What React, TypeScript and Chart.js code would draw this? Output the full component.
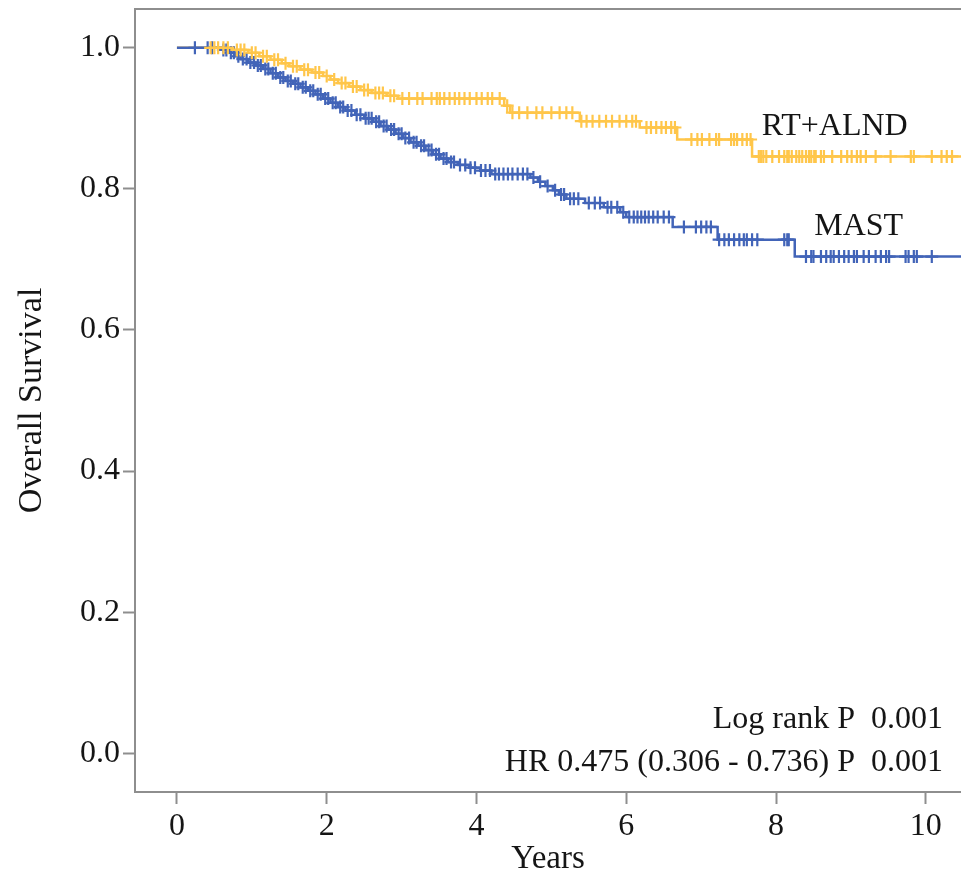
import React, { useEffect, useRef } from 'react';
import { Chart, registerables } from 'chart.js';

Chart.register(...registerables);

// ---- data ----
const xTicks = [0, 2, 4, 6, 8, 10];
const yTicks = [0, 0.2, 0.4, 0.6, 0.8, 1.0];

const seriesNames = ['RT+ALND', 'MAST'];
const statLines = ['Log rank P  0.001', 'HR 0.475 (0.306 - 0.736) P  0.001'];

// MAST (blue) Kaplan-Meier steps
const mastEventTimes = [0, 0.62, 0.7, 0.78, 0.85, 0.95, 1.05, 1.15, 1.25, 1.35, 1.45, 1.55, 1.65, 1.75, 1.85, 1.95, 2.05, 2.15, 2.25, 2.38, 2.5, 2.62, 2.72, 2.82, 2.92, 3.02, 3.12, 3.22, 3.32, 3.42, 3.52, 3.62, 3.75, 3.9, 4.05, 4.2, 4.72, 4.82, 4.92, 5.02, 5.1, 5.2, 5.45, 5.7, 5.92, 6.0, 6.62, 7.22, 8.25];
const mastSurvival = [1.0, 0.997, 0.993, 0.988, 0.984, 0.979, 0.975, 0.97, 0.964, 0.958, 0.953, 0.949, 0.944, 0.939, 0.934, 0.928, 0.922, 0.916, 0.911, 0.905, 0.9, 0.895, 0.889, 0.884, 0.878, 0.872, 0.866, 0.861, 0.855, 0.849, 0.843, 0.838, 0.834, 0.83, 0.826, 0.821, 0.816, 0.81, 0.804, 0.798, 0.792, 0.786, 0.78, 0.774, 0.767, 0.76, 0.746, 0.728, 0.704];
const mastCensorTimes = [0.24, 0.41, 0.47, 0.62, 0.66, 0.72, 0.76, 0.82, 0.88, 0.93, 0.98, 1.03, 1.08, 1.12, 1.18, 1.22, 1.28, 1.32, 1.38, 1.42, 1.48, 1.52, 1.58, 1.62, 1.68, 1.72, 1.78, 1.82, 1.88, 1.92, 1.98, 2.02, 2.08, 2.12, 2.18, 2.22, 2.28, 2.33, 2.4, 2.45, 2.52, 2.56, 2.6, 2.66, 2.7, 2.76, 2.8, 2.86, 2.9, 2.96, 3.0, 3.05, 3.1, 3.16, 3.2, 3.26, 3.3, 3.36, 3.4, 3.46, 3.5, 3.56, 3.6, 3.66, 3.7, 3.78, 3.85, 3.92, 3.98, 4.06, 4.12, 4.18, 4.25, 4.3, 4.36, 4.42, 4.48, 4.55, 4.62, 4.68, 4.76, 4.85, 4.95, 5.05, 5.13, 5.17, 5.25, 5.3, 5.36, 5.5, 5.58, 5.65, 5.75, 5.8, 5.88, 5.96, 6.04, 6.1, 6.15, 6.2, 6.25, 6.3, 6.36, 6.42, 6.5, 6.57, 6.77, 6.93, 7.0, 7.07, 7.13, 7.24, 7.31, 7.37, 7.44, 7.51, 7.57, 7.61, 7.68, 7.75, 8.11, 8.15, 8.17, 8.4, 8.47, 8.5, 8.6, 8.67, 8.73, 8.77, 8.84, 8.91, 8.97, 9.04, 9.08, 9.17, 9.24, 9.33, 9.4, 9.47, 9.51, 9.73, 9.77, 9.84, 9.88, 10.08];

// RT+ALND (yellow) Kaplan-Meier steps
const rtEventTimes = [0, 0.75, 0.95, 1.1, 1.25, 1.4, 1.5, 1.65, 1.8, 1.95, 2.05, 2.15, 2.3, 2.45, 2.6, 2.8, 2.95, 4.37, 4.45, 5.38, 6.18, 6.68, 7.68];
const rtSurvival = [1.0, 0.997, 0.993, 0.988, 0.983, 0.978, 0.974, 0.969, 0.965, 0.96, 0.955, 0.95, 0.945, 0.94, 0.936, 0.932, 0.928, 0.918, 0.908, 0.896, 0.887, 0.87, 0.846];
const rtCensorTimes = [0.45, 0.5, 0.55, 0.62, 0.68, 0.8, 0.85, 0.9, 1.0, 1.05, 1.15, 1.2, 1.3, 1.35, 1.45, 1.55, 1.6, 1.7, 1.75, 1.85, 1.9, 2.0, 2.1, 2.2, 2.25, 2.35, 2.4, 2.5, 2.55, 2.65, 2.7, 2.75, 2.85, 2.9, 3.01, 3.1, 3.21, 3.28, 3.4, 3.47, 3.51, 3.57, 3.64, 3.71, 3.77, 3.84, 3.91, 4.0, 4.07, 4.15, 4.21, 4.31, 4.41, 4.48, 4.57, 4.68, 4.8, 4.88, 5.0, 5.11, 5.2, 5.28, 5.4, 5.47, 5.55, 5.64, 5.73, 5.81, 5.91, 6.0, 6.08, 6.13, 6.27, 6.33, 6.4, 6.47, 6.53, 6.6, 6.65, 6.87, 6.95, 7.01, 7.11, 7.2, 7.24, 7.4, 7.44, 7.48, 7.55, 7.61, 7.66, 7.77, 7.8, 7.83, 7.87, 7.95, 8.04, 8.11, 8.15, 8.17, 8.21, 8.27, 8.31, 8.35, 8.4, 8.44, 8.47, 8.51, 8.53, 8.6, 8.64, 8.75, 8.87, 8.95, 9.01, 9.08, 9.13, 9.2, 9.33, 9.53, 9.8, 9.84, 10.08, 10.21, 10.28, 10.35];

// ---- styling ----
const FONT = "'Liberation Serif', 'Times New Roman', serif";
const YELLOW = '#FFC64A';
const BLUE = '#4264B8';
const AXIS = '#8e8e8e';
const TEXT = '#151515';
const X_MIN = -0.56;
const X_MAX = 10.47;
const Y_MIN = -0.055;
const Y_MAX = 1.055;

function survivalAt(times: number[], values: number[], t: number) {
  let s = values[0];
  for (let i = 0; i < times.length; i++) {
    if (times[i] <= t) s = values[i];
  }
  return s;
}

function stepPoints(times: number[], values: number[]) {
  const pts = times.map((t, i) => ({ x: t, y: values[i] }));
  pts.push({ x: X_MAX + 0.3, y: values[values.length - 1] });
  return pts;
}

function censorPoints(censor: number[], times: number[], values: number[]) {
  return censor.map((t) => ({ x: t, y: survivalAt(times, values, t) }));
}

const annotPlugin = {
  id: 'annot',
  afterDraw(chart: any) {
    const { ctx, chartArea, scales } = chart;
    const xs = scales.x;
    const ys = scales.y;
    ctx.save();
    // top frame line
    ctx.strokeStyle = AXIS;
    ctx.lineWidth = 2;
    ctx.beginPath();
    ctx.moveTo(chartArea.left - 1, chartArea.top);
    ctx.lineTo(chartArea.right, chartArea.top);
    ctx.stroke();

    ctx.fillStyle = TEXT;
    ctx.font = `32px ${FONT}`;
    ctx.textBaseline = 'middle';
    ctx.textAlign = 'left';
    ctx.fillText(seriesNames[0], xs.getPixelForValue(7.81), ys.getPixelForValue(0.888));
    ctx.fillText(seriesNames[1], xs.getPixelForValue(8.51), ys.getPixelForValue(0.746));
    ctx.textAlign = 'right';
    ctx.fillText(statLines[0], xs.getPixelForValue(10.23), ys.getPixelForValue(0.047));
    ctx.fillText(statLines[1], xs.getPixelForValue(10.23), ys.getPixelForValue(-0.014));
    ctx.restore();
  },
};

export default function App() {
  const ref = useRef<HTMLCanvasElement | null>(null);

  useEffect(() => {
    document.body.style.margin = '0';
    const canvas = ref.current;
    if (!canvas) return;
    const chart = new Chart(canvas, {
      type: 'scatter',
      data: {
        datasets: [
          {
            label: 'RT+ALND censored',
            data: censorPoints(rtCensorTimes, rtEventTimes, rtSurvival),
            showLine: false,
            pointStyle: 'cross',
            pointRadius: 6.5,
            pointBorderWidth: 2.2,
            borderColor: YELLOW,
            backgroundColor: YELLOW,
          },
          {
            label: 'MAST censored',
            data: censorPoints(mastCensorTimes, mastEventTimes, mastSurvival),
            showLine: false,
            pointStyle: 'cross',
            pointRadius: 6.5,
            pointBorderWidth: 2.2,
            borderColor: BLUE,
            backgroundColor: BLUE,
          },
          {
            label: 'MAST',
            data: stepPoints(mastEventTimes, mastSurvival),
            showLine: true,
            stepped: 'before',
            pointRadius: 0,
            borderWidth: 2.5,
            borderColor: BLUE,
            backgroundColor: BLUE,
          },
          {
            label: 'RT+ALND',
            data: stepPoints(rtEventTimes, rtSurvival),
            showLine: true,
            stepped: 'before',
            pointRadius: 0,
            borderWidth: 2.5,
            borderColor: YELLOW,
            backgroundColor: YELLOW,
          },
        ],
      },
      options: {
        animation: false,
        responsive: true,
        maintainAspectRatio: false,
        layout: { autoPadding: false, padding: { top: 9, right: 0, left: 0, bottom: 0 } },
        plugins: {
          legend: { display: false },
          tooltip: { enabled: false },
        },
        scales: {
          x: {
            type: 'linear',
            min: X_MIN,
            max: X_MAX,
            afterFit: (s: any) => {
              s.height = 88;
              s.paddingLeft = 0;
              s.paddingRight = 0;
            },
            afterBuildTicks: (s: any) => {
              s.ticks = xTicks.map((v) => ({ value: v }));
            },
            ticks: {
              font: { family: FONT, size: 32 },
              color: TEXT,
              padding: 3,
              maxRotation: 0,
              autoSkip: false,
              callback: (v: any) => String(v),
            },
            grid: {
              drawOnChartArea: false,
              drawTicks: true,
              tickLength: 12,
              tickColor: AXIS,
              tickWidth: 2,
            },
            border: { display: true, color: AXIS, width: 2 },
            title: {
              display: true,
              text: 'Years',
              font: { family: FONT, size: 33 },
              color: TEXT,
              padding: { top: 0, bottom: 1 },
            },
          },
          y: {
            type: 'linear',
            min: Y_MIN,
            max: Y_MAX,
            afterFit: (s: any) => {
              s.width = 135;
              s.paddingTop = 0;
              s.paddingBottom = 0;
            },
            afterBuildTicks: (s: any) => {
              s.ticks = yTicks.map((v) => ({ value: v }));
            },
            ticks: {
              font: { family: FONT, size: 32 },
              color: TEXT,
              padding: 3,
              autoSkip: false,
              callback: (v: any) => Number(v).toFixed(1),
            },
            grid: {
              drawOnChartArea: false,
              drawTicks: true,
              tickLength: 12,
              tickColor: AXIS,
              tickWidth: 2,
            },
            border: { display: true, color: AXIS, width: 2 },
            title: {
              display: true,
              text: 'Overall Survival',
              font: { family: FONT, size: 34 },
              color: TEXT,
              padding: { top: 12, bottom: 0 },
            },
          },
        },
      },
      plugins: [annotPlugin],
    });
    return () => chart.destroy();
  }, []);

  return (
    <div style={{ position: 'relative', width: 961, height: 880 }}>
      <canvas ref={ref} />
    </div>
  );
}
